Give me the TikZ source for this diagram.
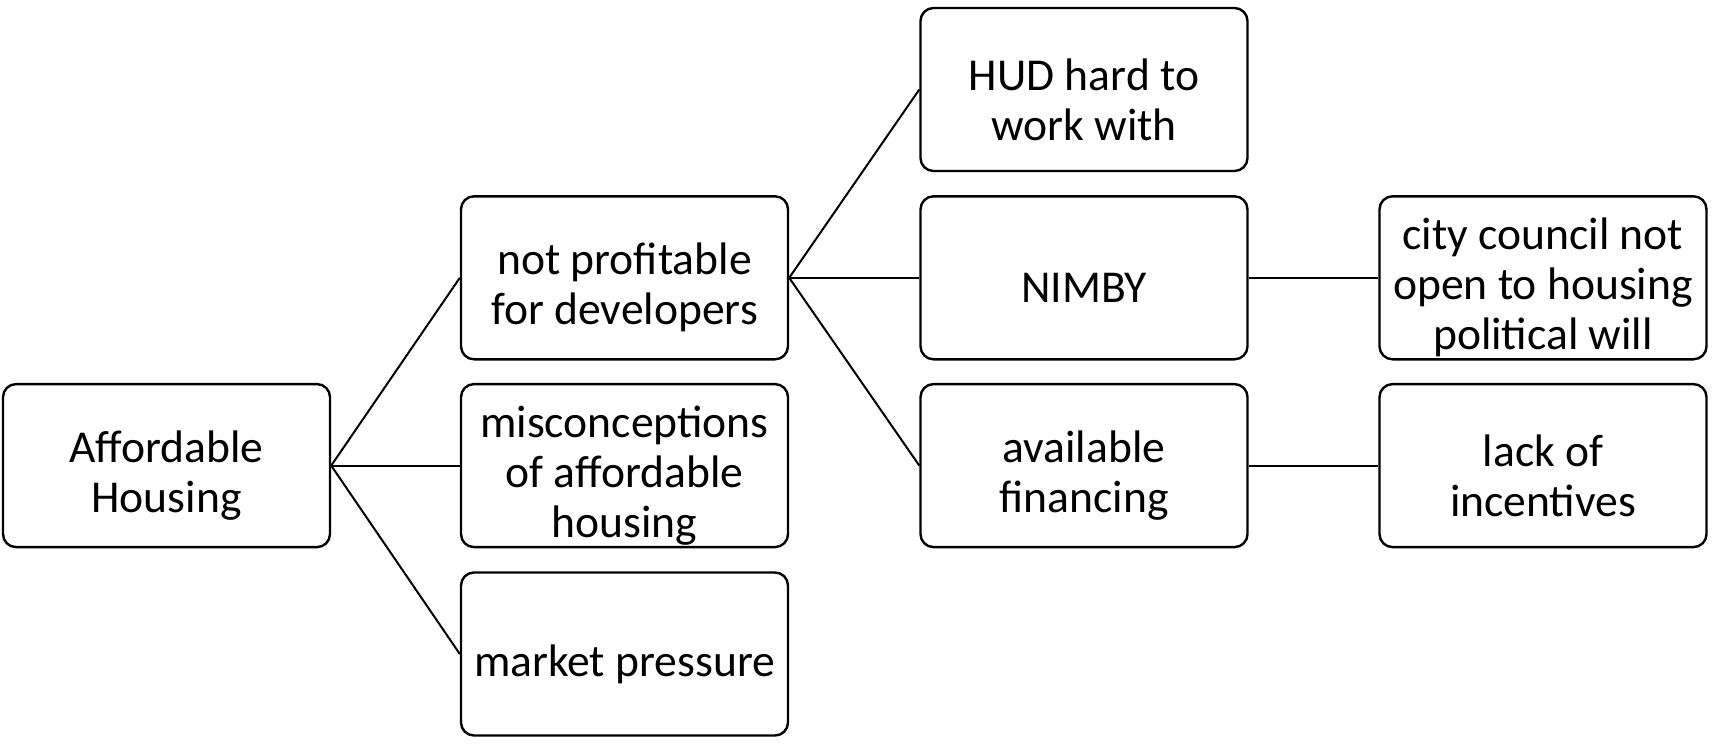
\documentclass[tikz,border=0pt]{standalone}
\usepackage{fontspec}
\setmainfont{Carlito}
\begin{document}
\begin{tikzpicture}[x=0.5pt,y=-0.5pt,
  box/.style={draw=black, line width=1.2pt, rounded corners=6.5pt, fill=white,
    minimum width=163.5pt, minimum height=81.5pt, inner sep=0pt},
  lbl/.style={align=center, inner sep=0pt, yshift=-5pt,
    font=\fontsize{22.8}{25}\selectfont},
  link/.style={draw=black, line width=1pt}]
\useasboundingbox (0,0) rectangle (1712,744);
\node[box] (A)   at (166.5,465.6) {};
\node[box] (NP)  at (624.5,277.8) {};
\node[box] (MIS) at (624.5,465.6) {};
\node[box] (MP)  at (624.5,654)   {};
\node[box] (HUD) at (1084,89.5)   {};
\node[box] (NIM) at (1084,277.8)  {};
\node[box] (AF)  at (1084,465.6)  {};
\node[box] (CC)  at (1543,277.8)  {};
\node[box] (LI)  at (1543,465.6)  {};
\node[lbl] (At)   at (A)   {Affordable\\Housing};
\node[lbl] (NPt)  at (NP)  {not profitable\\for developers};
\node[lbl] (MISt) at (MIS) {misconceptions\\of affordable\\housing};
\node[lbl] (MPt)  at (MP)  {market pressure};
\node[lbl] (HUDt) at (HUD) {HUD hard to\\work with};
\node[lbl] (NIMt) at (NIM) {NIMBY};
\node[lbl] (AFt)  at (AF)  {available\\financing};
\node[lbl] (CCt)  at (CC)  {city council not\\open to housing\\political will};
\node[lbl] (LIt)  at (LI)  {lack of\\incentives};
\draw[link] (A.east) -- (NP.west);
\draw[link] (A.east) -- (MIS.west);
\draw[link] (A.east) -- (MP.west);
\draw[link] (NP.east) -- (HUD.west);
\draw[link] (NP.east) -- (NIM.west);
\draw[link] (NP.east) -- (AF.west);
\draw[link] (NIM.east) -- (CC.west);
\draw[link] (AF.east) -- (LI.west);
\end{tikzpicture}
\end{document}
